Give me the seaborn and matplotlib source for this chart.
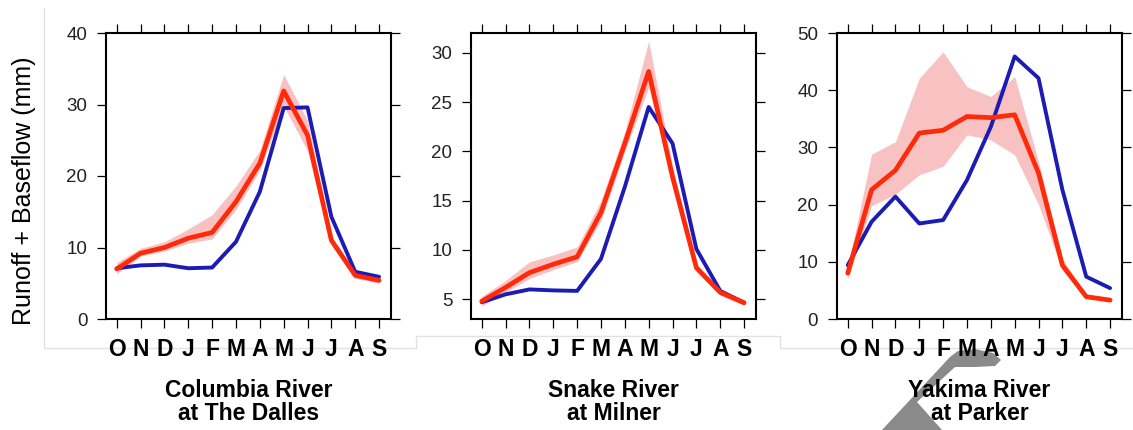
import numpy as np
import pandas as pd
import matplotlib
matplotlib.use("Agg")
import matplotlib.pyplot as plt
import seaborn as sns
from matplotlib.patches import Polygon
from matplotlib.lines import Line2D

months = ["O", "N", "D", "J", "F", "M", "A", "M", "J", "J", "A", "S"]

# Columbia River at The Dalles
col_obs = [7.1, 7.5, 7.6, 7.1, 7.2, 10.8, 17.8, 29.5, 29.6, 14.3, 6.6, 5.9]
col_sim = [7.0, 9.2, 10.0, 11.3, 12.1, 16.4, 21.8, 31.9, 25.7, 11.0, 6.1, 5.4]
col_lo = [6.3, 8.8, 9.5, 10.6, 11.2, 15.3, 20.8, 29.8, 23.5, 10.4, 5.7, 5.0]
col_hi = [7.9, 9.9, 10.8, 12.6, 14.6, 18.6, 23.6, 34.2, 27.8, 11.6, 6.6, 5.8]

# Snake River at Milner
snk_obs = [4.7, 5.5, 6.0, 5.9, 5.85, 9.1, 16.4, 24.5, 20.8, 10.1, 5.85, 4.65]
snk_sim = [4.8, 6.2, 7.7, 8.55, 9.3, 13.8, 20.8, 28.1, 17.4, 8.2, 5.7, 4.65]
snk_lo = [4.3, 5.7, 7.1, 8.0, 8.8, 13.0, 20.0, 26.5, 16.5, 7.8, 5.4, 4.4]
snk_hi = [5.3, 6.9, 8.8, 9.5, 10.3, 15.0, 22.0, 31.2, 18.5, 8.6, 6.0, 4.9]

# Yakima River at Parker
yak_obs = [9.4, 17.0, 21.4, 16.7, 17.3, 24.3, 33.6, 45.9, 42.1, 22.6, 7.4, 5.4]
yak_sim = [8.0, 22.6, 26.0, 32.5, 33.0, 35.4, 35.2, 35.7, 25.5, 9.4, 3.9, 3.3]
yak_lo = [7.0, 19.8, 21.8, 25.2, 26.7, 32.2, 31.3, 28.7, 20.0, 8.5, 3.6, 3.0]
yak_hi = [9.0, 28.8, 31.0, 42.1, 46.7, 40.6, 38.9, 42.4, 27.5, 10.5, 4.3, 3.6]

titles = ["Columbia River\nat The Dalles", "Snake River\nat Milner", "Yakima River\nat Parker"]
ylims = [(0, 40), (3, 32), (0, 50)]
yticks = [[0, 10, 20, 30, 40], [5, 10, 15, 20, 25, 30], [0, 10, 20, 30, 40, 50]]

sns.set_theme(style="ticks")
plt.rcParams["font.family"] = ["Liberation Sans", "DejaVu Sans"]
plt.rcParams["text.color"] = "black"
plt.rcParams["axes.labelcolor"] = "black"
plt.rcParams["xtick.color"] = "black"
plt.rcParams["ytick.color"] = "black"

W, H = 1133, 430
fig = plt.figure(figsize=(W / 100, H / 100), dpi=100)

RED = "#ff2a0a"
BLUE = "#1c1cb4"
BAND = "#f9b8b8"

# faint panel frames (background screenshots)
def fl(xs, ys):
    fig.add_artist(Line2D([x / W for x in xs], [1 - y / H for y in ys],
                          color="#e2e2e2", lw=1.0, zorder=-3, transform=fig.transFigure))
fl([44, 44], [8, 348]); fl([44, 416], [348, 348]); fl([416, 416], [336, 348])
fl([416, 780], [336, 336]); fl([780, 780], [336, 348]); fl([780, 1133], [348, 348])

# watermark fragment
poly = [(882, 430), (950, 357), (958, 351), (975, 349), (993, 353), (1001, 360),
        (995, 366), (975, 367), (955, 367), (917, 402), (942, 430)]
fig.add_artist(Polygon([(x / W, 1 - y / H) for x, y in poly], closed=True,
                       facecolor="#8a8a8a", edgecolor="none", zorder=-2,
                       transform=fig.transFigure))

lefts = [106, 471, 837]
datasets = [(col_obs, col_sim, col_lo, col_hi), (snk_obs, snk_sim, snk_lo, snk_hi),
            (yak_obs, yak_sim, yak_lo, yak_hi)]

x = np.arange(len(months))
for i, (obs, sim, lo, hi) in enumerate(datasets):
    ax = fig.add_axes([lefts[i] / W, (H - 319) / H, 285 / W, 286 / H])
    ax.set_facecolor("white")
    df = pd.DataFrame({"x": x, "obs": obs, "sim": sim})
    ax.fill_between(x, lo, hi, color=BAND, alpha=0.85, lw=0, zorder=1)
    sns.lineplot(data=df, x="x", y="obs", ax=ax, color=BLUE, lw=2.8, zorder=3)
    sns.lineplot(data=df, x="x", y="sim", ax=ax, color=RED, lw=3.4, zorder=4)
    ax.set_xlim(-0.45, 11.5)
    ax.set_ylim(*ylims[i])
    ax.set_xticks(x)
    ax.set_xticklabels(months, fontsize=16.5, fontweight="bold", color="black")
    ax.set_yticks(yticks[i])
    ax.set_yticklabels([str(v) for v in yticks[i]], fontsize=13.5, color="#222222")
    ax.tick_params(axis="both", which="both", direction="out", length=6.5, width=0.9,
                   color="black", top=True, right=True, labeltop=False, labelright=False)
    ax.tick_params(axis="x", pad=7)
    ax.tick_params(axis="y", pad=7)
    for s in ax.spines.values():
        s.set_visible(True)
        s.set_linewidth(1.5)
        s.set_color("black")
    ax.set_xlabel(titles[i], fontsize=16.5, fontweight="bold", labelpad=13,
                  linespacing=1.0, color="black")
    if i == 0:
        ax.set_ylabel("Runoff + Baseflow (mm)", fontsize=18, color="black")
        ax.yaxis.set_label_coords(-0.246, 0.45)
    else:
        ax.set_ylabel("")

fig.savefig("out.png", dpi=100)
